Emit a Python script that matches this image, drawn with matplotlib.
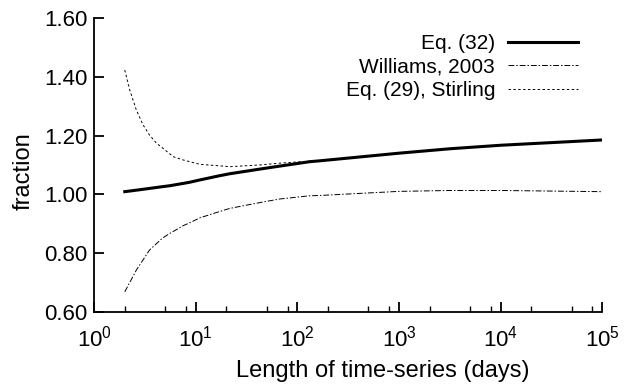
import numpy as np
import matplotlib
matplotlib.use('Agg')
import matplotlib.pyplot as plt
from matplotlib.ticker import FixedLocator, LogFormatterMathtext

plt.rcParams['font.family'] = ['Liberation Sans', 'DejaVu Sans']
plt.rcParams['mathtext.fontset'] = 'custom'
plt.rcParams['mathtext.rm'] = 'Liberation Sans'
plt.rcParams['mathtext.it'] = 'Liberation Sans'

# values
days = [2, 2.6, 3.5, 4.7, 5.5, 7.5, 8.7, 11, 17, 21.6, 43, 67, 132, 166, 1000, 3160, 10000, 100000]
eq32 = [1.009, 1.014, 1.020, 1.026, 1.029, 1.037, 1.041, 1.049, 1.063, 1.070, 1.086, 1.096, 1.111, 1.114,
        1.140, 1.155, 1.167, 1.185]
williams = [0.668, 0.742, 0.810, 0.851, 0.866, 0.893, 0.903, 0.920, 0.941, 0.952, 0.972, 0.984, 0.995, 0.996,
            1.010, 1.013, 1.013, 1.009]
stirling_days = [2, 2.24, 2.6, 3.03, 3.5, 4.1, 4.7, 6.0, 7.5, 11, 17, 21.6, 43, 67, 132]
stirling = [1.423, 1.355, 1.287, 1.236, 1.202, 1.174, 1.158, 1.128, 1.117, 1.102, 1.097, 1.094, 1.100,
            1.106, 1.113]

fig = plt.figure(figsize=(6.32, 3.84), dpi=100)
ax = fig.add_axes([0.149, 0.188, 0.804, 0.765])

ax.plot(days, eq32, c='black', lw=2.2, label='Eq. (32)')
ax.plot(days, williams, c='black', lw=0.7, dashes=[6, 2, 1.5, 2], label='Williams, 2003')
ax.plot(stirling_days + days[13:], stirling + eq32[13:], c='black', lw=0.7, dashes=[2.5, 2.5],
        label='Eq. (29), Stirling')

ax.set_xscale('log')
ax.set_xlim(1, 1e5)
ax.set_ylim(0.6, 1.6)
ax.set_yticks([0.6, 0.8, 1.0, 1.2, 1.4, 1.6])
ax.set_yticklabels(['%.2f' % v for v in [0.6, 0.8, 1.0, 1.2, 1.4, 1.6]])
ax.xaxis.set_major_locator(FixedLocator([1, 10, 100, 1e3, 1e4, 1e5]))
ax.xaxis.set_major_formatter(LogFormatterMathtext())
minors = [m * 10 ** e for e in range(5) for m in (2, 5, 8)]
ax.xaxis.set_minor_locator(FixedLocator(minors))
ax.xaxis.set_minor_formatter(plt.NullFormatter())

for s in ['top', 'right']:
    ax.spines[s].set_visible(False)
for s in ['left', 'bottom']:
    ax.spines[s].set_linewidth(1.3)
ax.tick_params(which='major', direction='in', length=7, width=1.3, labelsize=16)
ax.tick_params(axis='y', which='major', pad=5)
ax.tick_params(axis='x', which='major', pad=10)
ax.tick_params(which='minor', direction='in', length=4, width=1.0)

ax.set_xlabel('Length of time-series (days)', fontsize=17, labelpad=6)
ax.set_ylabel('fraction', fontsize=17)
ax.xaxis.set_label_coords(0.567, -0.165)
ax.yaxis.set_label_coords(-0.118, 0.48)

ax.legend(loc='upper right', bbox_to_anchor=(0.99, 1.01), frameon=False, markerfirst=False,
          fontsize=15, handlelength=3.4, labelspacing=0.22, handletextpad=0.6)

fig.savefig('out.png', dpi=100)
